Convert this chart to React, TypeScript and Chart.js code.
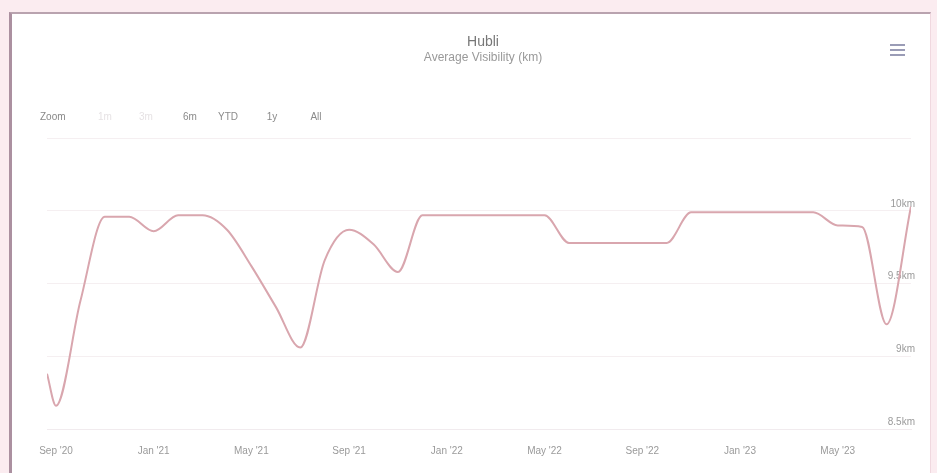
import React, { useEffect, useRef } from "react";
import { Chart, registerables } from "chart.js";

Chart.register(...registerables);

const TITLE = "Hubli";
const SUBTITLE = "Average Visibility (km)";

const DATES = [
  "2020-08-20", "2020-09-01", "2020-10-01", "2020-11-01", "2020-12-01",
  "2021-01-01", "2021-02-01", "2021-03-01", "2021-04-01", "2021-05-01",
  "2021-06-01", "2021-07-01", "2021-08-01", "2021-09-01", "2021-10-01",
  "2021-11-01", "2021-12-01", "2022-01-01", "2022-02-01", "2022-03-01",
  "2022-04-01", "2022-05-01", "2022-06-01", "2022-07-01", "2022-08-01",
  "2022-09-01", "2022-10-01", "2022-11-01", "2022-12-01", "2023-01-01",
  "2023-02-01", "2023-03-01", "2023-04-01", "2023-05-01", "2023-06-01",
  "2023-07-01", "2023-08-01",
];

const VISIBILITY = [
  8.88, 8.66, 9.38, 9.96, 9.96,
  9.86, 9.97, 9.97, 9.87, 9.62,
  9.34, 9.06, 9.66, 9.87, 9.77,
  9.58, 9.97, 9.97, 9.97, 9.97,
  9.97, 9.97, 9.78, 9.78, 9.78,
  9.78, 9.78, 9.99, 9.99, 9.99,
  9.99, 9.99, 9.99, 9.9, 9.89,
  9.22, 10.03,
];

const X_TICK_DATES = [
  "2020-09-01", "2021-01-01", "2021-05-01", "2021-09-01", "2022-01-01",
  "2022-05-01", "2022-09-01", "2023-01-01", "2023-05-01",
];
const X_TICK_LABELS = [
  "Sep '20", "Jan '21", "May '21", "Sep '21", "Jan '22",
  "May '22", "Sep '22", "Jan '23", "May '23",
];

const Y_TICKS = [8.5, 9, 9.5, 10, 10.5];
const Y_TICK_LABELS = ["8.5km", "9km", "9.5km", "10km", ""];

const RANGE_BUTTONS = ["1m", "3m", "6m", "YTD", "1y", "All"];
const RANGE_DISABLED = [true, true, false, false, false, false];

// months since Sep 2020
function monthIndex(d: string): number {
  const [y, m, day] = d.split("-").map(Number);
  return (y - 2020) * 12 + (m - 9) + (day - 1) / 30;
}

const FONT = '"Liberation Sans", Arial, Helvetica, sans-serif';

export default function App() {
  const ref = useRef<HTMLCanvasElement | null>(null);

  useEffect(() => {
    if (!ref.current) return;
    const points = DATES.map((d, i) => ({ x: monthIndex(d), y: VISIBILITY[i] }));
    const xTicks = X_TICK_DATES.map(monthIndex);
    const xMin = monthIndex(DATES[0]);
    const xMax = monthIndex(DATES[DATES.length - 1]);

    const chart = new Chart(ref.current, {
      type: "line",
      data: {
        datasets: [
          {
            label: SUBTITLE,
            data: points,
            borderColor: "#d9a6ae",
            borderWidth: 2,
            pointRadius: 0,
            fill: false,
            cubicInterpolationMode: "monotone",
          },
        ],
      },
      options: {
        animation: false,
        responsive: false,
        maintainAspectRatio: false,
        layout: { padding: { left: 14, right: 18, top: 34, bottom: 0 } },
        plugins: {
          legend: { display: false },
          tooltip: { enabled: false },
          title: {
            display: true,
            text: TITLE,
            color: "#777",
            font: { family: FONT, size: 14, weight: "normal" },
            padding: { top: 0, bottom: 0 },
          },
          subtitle: {
            display: true,
            text: SUBTITLE,
            color: "#999",
            font: { family: FONT, size: 12, weight: "normal" },
            padding: { top: 0, bottom: 73 },
          },
        },
        scales: {
          x: {
            type: "linear",
            min: xMin,
            max: xMax,
            afterBuildTicks: (scale: any) => {
              scale.ticks = xTicks.map((v) => ({ value: v }));
            },
            afterFit: (scale: any) => {
              scale.paddingLeft = 0;
              scale.paddingRight = 0;
            },
            ticks: {
              autoSkip: false,
              maxRotation: 0,
              padding: 16,
              color: "#9a9a9a",
              font: { family: FONT, size: 10 },
              callback: (v: any) => {
                const i = xTicks.findIndex((t) => Math.abs(t - Number(v)) < 1e-6);
                return i >= 0 ? X_TICK_LABELS[i] : "";
              },
            },
            grid: { display: false, drawTicks: false },
            border: { display: true, color: "#f1ebee" },
          },
          y: {
            type: "linear",
            position: "right",
            min: 8.5,
            max: 10.5,
            afterBuildTicks: (scale: any) => {
              scale.ticks = Y_TICKS.map((v) => ({ value: v }));
            },
            afterFit: (scale: any) => {
              scale.paddingTop = 0;
              scale.paddingBottom = 0;
            },
            ticks: {
              mirror: true,
              padding: 4,
              labelOffset: -7,
              color: "#9a9a9a",
              font: { family: FONT, size: 10 },
              callback: (v: any) => {
                const i = Y_TICKS.findIndex((t) => Math.abs(t - Number(v)) < 1e-6);
                return i >= 0 ? Y_TICK_LABELS[i] : "";
              },
            },
            grid: { color: "#f5eff1", drawTicks: false },
            border: { display: false },
          },
        },
      },
    });
    return () => chart.destroy();
  }, []);

  const btnX = [105, 146, 190, 228, 272, 316];

  return (
    <div
      style={{
        position: "fixed",
        left: 0,
        top: 0,
        width: 937,
        height: 473,
        background: "#fbecf0",
        overflow: "hidden",
        fontFamily: FONT,
      }}
    >
      <div
        style={{
          position: "absolute",
          left: 9,
          top: 12,
          width: 918,
          height: 470,
          background: "#ffffff",
          borderLeft: "3px solid #ab90a0",
          borderTop: "2px solid #b9a3af",
          borderRight: "1px solid #f0d8df",
        }}
      />
      <canvas
        ref={ref}
        width={904}
        height={473}
        style={{ position: "absolute", left: 33, top: 0, width: 904, height: 473 }}
      />
      <div
        style={{
          position: "absolute",
          left: 40,
          top: 111,
          fontSize: 10,
          color: "#888",
        }}
      >
        Zoom
      </div>
      {RANGE_BUTTONS.map((b, i) => (
        <div
          key={b}
          style={{
            position: "absolute",
            left: btnX[i] - 15,
            width: 30,
            top: 111,
            textAlign: "center",
            fontSize: 10,
            color: RANGE_DISABLED[i] ? "#e6e2e4" : "#8a8a8a",
          }}
        >
          {b}
        </div>
      ))}
      <div style={{ position: "absolute", left: 890, top: 44, width: 15 }}>
        {[0, 1, 2].map((k) => (
          <div
            key={k}
            style={{ height: 2, background: "#9a9cb6", marginBottom: 3 }}
          />
        ))}
      </div>
    </div>
  );
}
